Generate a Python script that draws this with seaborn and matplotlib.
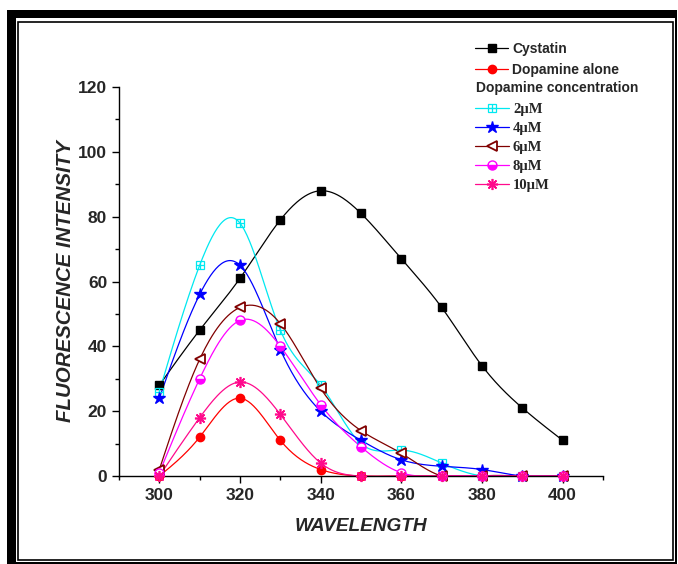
import numpy as np
import pandas as pd
import matplotlib
matplotlib.use('Agg')
import matplotlib.pyplot as plt
import seaborn as sns
from matplotlib.lines import Line2D
from matplotlib.patches import Rectangle

# emission spectra
wavelength = [300, 310, 320, 330, 340, 350, 360, 370, 380, 390, 400]
cystatin = [28, 45, 61, 79, 88, 81, 67, 52, 34, 21, 11]
dopamine_alone = [0, 12, 24, 11, 2, 0, 0, 0, 0, 0, 0]
dop_2uM = [26, 65, 78, 45, 28, 10, 8, 4, 0, 0, 0]
dop_4uM = [24, 56, 65, 39, 20, 11, 5, 3, 2, 0, 0]
dop_6uM = [2, 36, 52, 47, 27, 14, 7, 0, 0, 0, 0]
dop_8uM = [1, 30, 48, 40, 22, 9, 1, 0, 0, 0, 0]
dop_10uM = [0, 18, 29, 19, 4, 0, 0, 0, 0, 0, 0]


def spline(x, y, n=300):
    # natural cubic spline, used only to draw the smooth connecting line
    x = np.asarray(x, float)
    y = np.asarray(y, float)
    h = np.diff(x)
    k = len(x)
    A = np.zeros((k, k))
    b = np.zeros(k)
    A[0, 0] = A[-1, -1] = 1
    for i in range(1, k - 1):
        A[i, i - 1] = h[i - 1]
        A[i, i] = 2 * (h[i - 1] + h[i])
        A[i, i + 1] = h[i]
        b[i] = 3 * ((y[i + 1] - y[i]) / h[i] - (y[i] - y[i - 1]) / h[i - 1])
    c = np.linalg.solve(A, b)
    bb = (y[1:] - y[:-1]) / h - h * (2 * c[:-1] + c[1:]) / 3
    d = (c[1:] - c[:-1]) / (3 * h)
    xs = np.linspace(x[0], x[-1], n)
    idx = np.clip(np.searchsorted(x, xs) - 1, 0, k - 2)
    dx = xs - x[idx]
    ys = y[idx] + bb[idx] * dx + c[idx] * dx ** 2 + d[idx] * dx ** 3
    return xs, ys


sns.set_theme(style='ticks')
plt.rcParams['font.family'] = ['Liberation Sans', 'DejaVu Sans']

fig = plt.figure(figsize=(6.78, 5.64), dpi=100)
ax = fig.add_axes([119 / 678, 1 - 476 / 564, 484 / 678, 389 / 564])

series = [
    ('Cystatin', cystatin, dict(color='black', marker='s', ms=5.5, mfc='black', mec='black')),
    ('Dopamine alone', dopamine_alone, dict(color='red', marker='o', ms=6, mfc='red', mec='red')),
    ('2\u00b5M', dop_2uM, dict(color='#00e8f0', marker='s', ms=5.5, mfc='none', mec='#00e8f0', mew=0.9)),
    ('4\u00b5M', dop_4uM, dict(color='blue', marker='*', ms=9, mfc='blue', mec='blue')),
    ('6\u00b5M', dop_6uM, dict(color='#800000', marker='<', ms=7, mfc='white', mec='#800000', mew=1.3)),
    ('8\u00b5M', dop_8uM, dict(color='magenta', marker='o', ms=6.5, mfc='magenta', mfcalt='white',
                              mec='magenta', fillstyle='bottom', mew=1)),
    ('10\u00b5M', dop_10uM, dict(color='#ff0a8c', marker=(8, 2, 0), ms=8, mec='#ff0a8c', mew=1.2)),
]

handles = []
for name, vals, st in series:
    xs, ys = spline(wavelength, vals)
    sns.lineplot(x=xs, y=ys, ax=ax, color=st['color'], lw=0.9, sort=False, estimator=None)
    mk = {k: v for k, v in st.items() if k != 'color'}
    ax.plot(wavelength, vals, ls='none', clip_on=False, zorder=5, **mk)
    h = Line2D([], [], color=st['color'], lw=0.9, **mk)
    if name == '2\u00b5M':
        ax.plot(wavelength, vals, ls='none', marker='+', ms=5.5, mec='#00e8f0', mew=0.9,
                clip_on=False, zorder=5)
        h = (h, Line2D([], [], ls='none', marker='+', ms=5.5, mec='#00e8f0', mew=0.9))
    handles.append((h, name))

ax.set_xlim(290, 410)
ax.set_ylim(0, 120)
ax.set_xticks(range(300, 401, 20))
ax.set_xticks(range(290, 411, 10), minor=True)
ax.set_yticks(range(0, 121, 20))
ax.set_yticks(range(0, 121, 10), minor=True)
ax.tick_params(which='major', length=5, width=1, color='black', pad=3.5,
               labelsize=12.5, direction='out')
ax.tick_params(which='minor', length=3, width=1, color='black', direction='out')
for lab in ax.get_xticklabels() + ax.get_yticklabels():
    lab.set_fontweight('bold')
sns.despine(ax=ax)
for s in ['left', 'bottom']:
    ax.spines[s].set_linewidth(1)
    ax.spines[s].set_color('black')
ax.grid(False)

ax.set_xlabel('WAVELENGTH', fontsize=13.7, fontweight='bold', fontstyle='italic', labelpad=11)
ax.set_ylabel('FLUORESCENCE INTENSITY', fontsize=14.8, fontweight='bold', fontstyle='italic',
              labelpad=2)

# legend: two groups plus the header line between them
leg1 = fig.legend([h for h, n in handles[:2]], [n for h, n in handles[:2]],
                  loc='upper left', bbox_to_anchor=(475 / 678, 1 - 42 / 564),
                  frameon=False, handlelength=2.4, handletextpad=0.3, borderpad=0,
                  borderaxespad=0, labelspacing=0.47,
                  prop=dict(family='Liberation Sans', weight='bold', size=10))
fig.text(476 / 678, 1 - 88 / 564, 'Dopamine concentration', ha='left', va='center',
         fontsize=10, fontweight='bold', family='Liberation Sans')
leg2 = fig.legend([h for h, n in handles[2:]], [n for h, n in handles[2:]],
                  loc='upper left', bbox_to_anchor=(475 / 678, 1 - 103 / 564),
                  frameon=False, handlelength=2.3, handletextpad=0.3, borderpad=0,
                  borderaxespad=0, labelspacing=0.4,
                  prop=dict(family='Liberation Serif', weight='bold', size=10.5))

# double page frame: thick top/left, thin right/bottom, thin inner line
W, H = 678, 564


def band(x0, y0, x1, y1):
    fig.add_artist(Rectangle((x0 / W, 1 - y1 / H), (x1 - x0) / W, (y1 - y0) / H,
                             transform=fig.transFigure, color='black', lw=0))


band(7.3, 10, 676.7, 18.3)
band(7.3, 10, 15.7, 563.7)
band(675, 10, 676.7, 563.7)
band(7.3, 562, 676.7, 563.7)
fig.add_artist(Rectangle((18.1 / W, 1 - 560 / H), (672.5 - 18.1) / W, (560 - 21.5) / H,
                         transform=fig.transFigure, fill=False, ec='black', lw=1.2))

fig.savefig('out.png', dpi=100)
